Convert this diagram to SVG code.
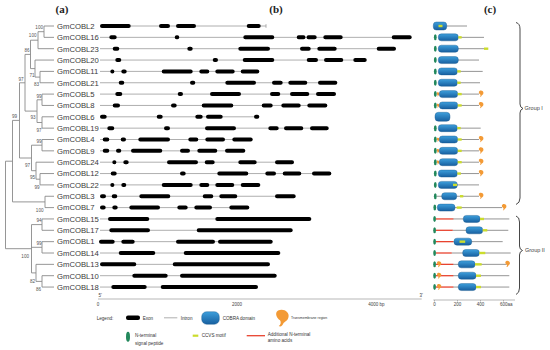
<svg xmlns="http://www.w3.org/2000/svg" xmlns:xlink="http://www.w3.org/1999/xlink" width="550" height="350" viewBox="0 0 550 350">
<style>
text{font-family:"Liberation Sans",Arial,sans-serif}
.g{font-size:7.7px;fill:#3a3a3a}
.bs{font-size:4.6px;fill:#555;text-anchor:end}
.pan{font-family:"Liberation Serif","Times New Roman",serif;font-size:11px;font-weight:bold;fill:#222;text-anchor:middle}
.tree path{fill:none;stroke:#8a8a8a;stroke-width:0.9}
.in{stroke:#9a9a9a;stroke-width:0.8}
.ex{fill:none;stroke:#000;stroke-width:4;stroke-linecap:round}
.pl{stroke:#7a7a7a;stroke-width:0.8}
.rl{stroke:#e8432f;stroke-width:1.3}
.dom{fill:url(#bg);stroke:#17598e;stroke-width:0.4}
.cc{fill:#cbdc2c}
.sp{fill:#23885c}
.tm{fill:#f39a35}
.ax{stroke:#9a9a9a;stroke-width:0.7}
.at{font-size:4.5px;fill:#444}
.lg{font-size:4.6px;fill:#333}
.grp{font-size:5.5px;fill:#444}
.br{fill:none;stroke:#333;stroke-width:0.9}
</style>
<defs>
<linearGradient id="bg" x1="0" y1="0" x2="0" y2="1">
<stop offset="0" stop-color="#3d9fdc"/>
<stop offset="1" stop-color="#175f9f"/>
</linearGradient>
<path id="tmh" class="tm" d="M-3,-5 C1,-7 6,-4 5,0 C4.5,3 2,3.5 1,5 C0.5,6.5 -1,8 -2.5,7 C-1,6 -0.5,4 -1.5,2.5 C-4,1 -6,-3 -3,-5Z"/>
</defs>
<rect width="550" height="350" fill="#fff"/>

<text class="pan" x="62" y="13">(a)</text>
<text class="pan" x="276" y="13">(b)</text>
<text class="pan" x="490" y="13">(c)</text>

<g id="tree" class="tree">
<path d="M54 26H44V37.35H54"/>
<path d="M44 31.7H38V48.7H54"/>
<path d="M54 71.4H40V82.75H54"/>
<path d="M54 60.05H35V77.1H40"/>
<path d="M38 40.2H30.5V68.6H35"/>
<path d="M54 94.1H42V105.45H54"/>
<path d="M54 116.8H42V128.15H54"/>
<path d="M42 99.8H37V122.5H42"/>
<path d="M30.5 54.4H25V111.1H37"/>
<path d="M54 139.5H42V150.85H54"/>
<path d="M54 173.55H40V184.9H54"/>
<path d="M54 162.2H36V179.2H40"/>
<path d="M42 145.2H31.5V170.7H36"/>
<path d="M25 82.8H19.5V158H31.5"/>
<path d="M54 196.25H45V207.6H54"/>
<path d="M19.5 120.4H12.5V201.9H45"/>
<path d="M54 218.95H42V230.3H54"/>
<path d="M54 241.65H42V253H54"/>
<path d="M54 275.7H42V287.05H54"/>
<path d="M54 264.35H36V281.4H42"/>
<path d="M42 224.6H31.5V272.9H36M31.5 247.3H42"/>
<path d="M12.5 161.2H5.5V248.7H31.5"/>
</g>
<g id="bootstrap">
<text class="bs" x="43" y="29">100</text>
<text class="bs" x="36.5" y="36.5">100</text>
<text class="bs" x="29.5" y="52">86</text>
<text class="bs" x="34.5" y="76.5">71</text>
<text class="bs" x="39" y="85.5">83</text>
<text class="bs" x="41.5" y="97.5">99</text>
<text class="bs" x="35.5" y="119">93</text>
<text class="bs" x="41.5" y="132">97</text>
<text class="bs" x="23.5" y="80.5">97</text>
<text class="bs" x="17" y="118">99</text>
<text class="bs" x="41.5" y="143">99</text>
<text class="bs" x="30" y="167">97</text>
<text class="bs" x="35" y="179">95</text>
<text class="bs" x="39.5" y="188.5">99</text>
<text class="bs" x="43.5" y="211.5">100</text>
<text class="bs" x="41.5" y="221.5">94</text>
<text class="bs" x="41.5" y="245">99</text>
<text class="bs" x="29" y="258">100</text>
<text class="bs" x="35" y="282.5">82</text>
<text class="bs" x="41" y="290.5">86</text>
</g>

<g id="GmCOBL2" transform="translate(0,26)">
<text class="g" x="57" y="2.8">GmCOBL2</text>
<line class="in" x1="100" x2="266"/><line class="in" x1="266" x2="266" y1="-1.8" y2="1.8"/>
<path class="ex" d="M102 0H128.7M161 0H168M178 0H194M248.7 0H258.7"/>
<line class="pl" x1="446" x2="467"/>
<rect class="dom" x="433.3" y="-4" width="13.4" height="8" rx="3"/>
<rect class="cc" x="438.5" y="-1.2" width="4" height="2.4"/>
</g>
<g id="GmCOBL16" transform="translate(0,37.35)">
<text class="g" x="57" y="2.8">GmCOBL16</text>
<line class="in" x1="100" x2="411.7"/>
<path class="ex" d="M111.3 0H114.7M176.7 0H177.3M245.3 0H272.3M298.7 0H303.5M308.5 0H314.7M325.3 0H340.7M393.7 0H409.7"/>
<line class="pl" x1="458" x2="484"/>
<rect class="dom" x="438.3" y="-3.5" width="20" height="7" rx="3"/>
<rect class="cc" x="458.3" y="-1.2" width="3.4" height="2.4"/>
<ellipse class="sp" cx="435.3" cy="0" rx="1.4" ry="3"/>
</g>
<g id="GmCOBL23" transform="translate(0,48.7)">
<text class="g" x="57" y="2.8">GmCOBL23</text>
<line class="in" x1="100" x2="396"/>
<path class="ex" d="M114.7 0H117.3M189.3 0H190.7M240.3 0H268M302 0H308.7M319.3 0H334.7M378.7 0H394"/>
<line class="pl" x1="458" x2="484"/>
<rect class="dom" x="438.3" y="-3.5" width="20" height="7" rx="3"/>
<rect class="cc" x="484" y="-1.2" width="4.3" height="2.4"/>
<ellipse class="sp" cx="435.3" cy="0" rx="1.4" ry="3"/>
</g>
<g id="GmCOBL20" transform="translate(0,60.05)">
<text class="g" x="57" y="2.8">GmCOBL20</text>
<line class="in" x1="100" x2="366.7"/>
<path class="ex" d="M117.3 0H119.3M214.7 0H216M244.7 0H272.3M308.7 0H316M326 0H341.3M355.3 0H364.7"/>
<line class="pl" x1="458" x2="479"/>
<rect class="dom" x="438.3" y="-3.5" width="20" height="7" rx="3"/>
<ellipse class="sp" cx="435.3" cy="0" rx="1.4" ry="3"/>
</g>
<g id="GmCOBL11" transform="translate(0,71.4)">
<text class="g" x="57" y="2.8">GmCOBL11</text>
<line class="in" x1="100" x2="259.3"/>
<path class="ex" d="M112.3 0H112.4M123.3 0H124.7M163.7 0H190.7M201.3 0H207.3M217.3 0H232.7M242.7 0H257.3"/>
<line class="pl" x1="457" x2="482.7"/>
<rect class="dom" x="438.3" y="-3.5" width="19" height="7" rx="3"/>
<rect class="cc" x="457.3" y="-1.2" width="3.4" height="2.4"/>
<ellipse class="sp" cx="435.3" cy="0" rx="1.4" ry="3"/>
</g>
<g id="GmCOBL21" transform="translate(0,82.75)">
<text class="g" x="57" y="2.8">GmCOBL21</text>
<line class="in" x1="100" x2="337.3"/>
<path class="ex" d="M120.7 0H122.3M192 0H193.3M227.3 0H254M274 0H280.7M290.3 0H305.3M320 0H335.3"/>
<line class="pl" x1="457" x2="480"/>
<rect class="dom" x="438.3" y="-3.5" width="19" height="7" rx="3"/>
<rect class="cc" x="457.3" y="-1.2" width="3.4" height="2.4"/>
<ellipse class="sp" cx="435.3" cy="0" rx="1.4" ry="3"/>
</g>
<g id="GmCOBL5" transform="translate(0,94.1)">
<text class="g" x="57" y="2.8">GmCOBL5</text>
<line class="in" x1="100" x2="336"/>
<path class="ex" d="M117.3 0H120.3M179.7 0H181M212 0H239M272 0H278.3M292 0H307.3M318 0H334"/>
<line class="pl" x1="457" x2="479"/>
<use href="#tmh" transform="translate(438,0) scale(0.32)"/>
<rect class="dom" x="439.3" y="-3.5" width="18.4" height="7" rx="3"/>
<rect class="cc" x="457.7" y="-1.2" width="4" height="2.4"/>
<ellipse class="sp" cx="435.3" cy="0" rx="1.4" ry="3"/>
<use href="#tmh" transform="translate(481,-0.8) scale(0.48)"/>
</g>
<g id="GmCOBL8" transform="translate(0,105.45)">
<text class="g" x="57" y="2.8">GmCOBL8</text>
<line class="in" x1="100" x2="327.3"/>
<path class="ex" d="M114.7 0H118M173 0H174.7M203.7 0H231.3M263.7 0H270.7M283.3 0H298.7M309.3 0H325.3"/>
<line class="pl" x1="457" x2="479"/>
<use href="#tmh" transform="translate(438,0) scale(0.32)"/>
<rect class="dom" x="439.3" y="-3.5" width="18.4" height="7" rx="3"/>
<rect class="cc" x="457.7" y="-1.2" width="4" height="2.4"/>
<ellipse class="sp" cx="435.3" cy="0" rx="1.4" ry="3"/>
<use href="#tmh" transform="translate(481,-0.8) scale(0.48)"/>
</g>
<g id="GmCOBL6" transform="translate(0,116.8)">
<text class="g" x="57" y="2.8">GmCOBL6</text>
<line class="in" x1="100" x2="259.3"/>
<path class="ex" d="M102 0H104.7M158.7 0H160.7M197.3 0H200.7M208 0H220.7M256 0H257.3"/>
<rect class="dom" x="435" y="-4.5" width="15" height="9" rx="3.5"/>
</g>
<g id="GmCOBL19" transform="translate(0,128.15)">
<text class="g" x="57" y="2.8">GmCOBL19</text>
<line class="in" x1="100" x2="328.7"/>
<path class="ex" d="M109.3 0H112.3M166 0H168M207 0H234M270.3 0H276.7M286 0H301.3M312 0H326.7"/>
<line class="pl" x1="457" x2="480.7"/>
<rect class="dom" x="438.3" y="-3.5" width="19" height="7" rx="3"/>
<rect class="cc" x="457.3" y="-1.2" width="3.4" height="2.4"/>
<ellipse class="sp" cx="435.3" cy="0" rx="1.4" ry="3"/>
</g>
<g id="GmCOBL4" transform="translate(0,139.5)">
<text class="g" x="57" y="2.8">GmCOBL4</text>
<line class="in" x1="100" x2="252.7"/>
<path class="ex" d="M104.7 0H107.3M122.7 0H124M140.3 0H168M190.3 0H196.3M207.3 0H223M234.3 0H250.7"/>
<line class="pl" x1="457" x2="479"/>
<use href="#tmh" transform="translate(438,0) scale(0.32)"/>
<rect class="dom" x="439.3" y="-3.5" width="18.4" height="7" rx="3"/>
<rect class="cc" x="457.7" y="-1.2" width="4" height="2.4"/>
<ellipse class="sp" cx="435.3" cy="0" rx="1.4" ry="3"/>
<use href="#tmh" transform="translate(481,-0.8) scale(0.48)"/>
</g>
<g id="GmCOBL9" transform="translate(0,150.85)">
<text class="g" x="57" y="2.8">GmCOBL9</text>
<line class="in" x1="100" x2="245.3"/>
<path class="ex" d="M104.7 0H107.3M118 0H119.3M133 0H160.3M182 0H188M199.3 0H215.3M227 0H243.3"/>
<line class="pl" x1="457" x2="479"/>
<use href="#tmh" transform="translate(438,0) scale(0.32)"/>
<rect class="dom" x="439.3" y="-3.5" width="18.4" height="7" rx="3"/>
<rect class="cc" x="457.7" y="-1.2" width="4" height="2.4"/>
<ellipse class="sp" cx="435.3" cy="0" rx="1.4" ry="3"/>
<use href="#tmh" transform="translate(481,-0.8) scale(0.48)"/>
</g>
<g id="GmCOBL24" transform="translate(0,162.2)">
<text class="g" x="57" y="2.8">GmCOBL24</text>
<line class="in" x1="100" x2="294"/>
<path class="ex" d="M114.3 0H114.4M125.3 0H126.7M169 0H196M206.7 0H212.7M240.3 0H254.7M277 0H292"/>
<line class="pl" x1="457" x2="479"/>
<use href="#tmh" transform="translate(438,0) scale(0.32)"/>
<rect class="dom" x="439.3" y="-3.5" width="18.4" height="7" rx="3"/>
<rect class="cc" x="457.7" y="-1.2" width="4" height="2.4"/>
<ellipse class="sp" cx="435.3" cy="0" rx="1.4" ry="3"/>
<use href="#tmh" transform="translate(481,-0.8) scale(0.48)"/>
</g>
<g id="GmCOBL12" transform="translate(0,173.55)">
<text class="g" x="57" y="2.8">GmCOBL12</text>
<line class="in" x1="100" x2="331.3"/>
<path class="ex" d="M112.7 0H114.7M182 0H183.7M219.3 0H246.3M267.3 0H274M284.7 0H299.3M314 0H329.3"/>
<line class="pl" x1="457" x2="479"/>
<rect class="dom" x="438.3" y="-3.5" width="19" height="7" rx="3"/>
<rect class="cc" x="457.3" y="-1.2" width="3.6" height="2.4"/>
<ellipse class="sp" cx="435.3" cy="0" rx="1.4" ry="3"/>
<use href="#tmh" transform="translate(481,-0.8) scale(0.48)"/>
</g>
<g id="GmCOBL22" transform="translate(0,184.9)">
<text class="g" x="57" y="2.8">GmCOBL22</text>
<line class="in" x1="100" x2="260.3"/>
<path class="ex" d="M112.3 0H112.4M123.3 0H124.3M163.7 0H190.7M201.3 0H207.3M217.3 0H232.3M242.7 0H258.3"/>
<line class="pl" x1="457" x2="479"/>
<rect class="dom" x="438.3" y="-3.5" width="19" height="7" rx="3"/>
<rect class="cc" x="453" y="-1.2" width="4" height="2.4"/>
<ellipse class="sp" cx="435.3" cy="0" rx="1.4" ry="3"/>
</g>
<g id="GmCOBL3" transform="translate(0,196.25)">
<text class="g" x="57" y="2.8">GmCOBL3</text>
<line class="in" x1="100" x2="295.7"/>
<path class="ex" d="M102 0H104M113.7 0H115.3M141.3 0H168.3M204.7 0H211.3M221.3 0H235.3M277 0H293.7"/>
<line class="pl" x1="437" x2="479"/>
<rect class="dom" x="441.7" y="-3.5" width="15" height="7" rx="3"/>
<rect class="cc" x="460" y="-1.2" width="3.3" height="2.4"/>
<ellipse class="sp" cx="435.3" cy="0" rx="1.4" ry="3"/>
<use href="#tmh" transform="translate(481,-0.8) scale(0.48)"/>
</g>
<g id="GmCOBL7" transform="translate(0,207.6)">
<text class="g" x="57" y="2.8">GmCOBL7</text>
<line class="in" x1="100" x2="249.3"/>
<path class="ex" d="M102 0H103.7M114.3 0H115.7M131.3 0H158M179.3 0H185.7M196.3 0H210M231.3 0H247.3"/>
<line class="pl" x1="455" x2="502"/>
<rect class="dom" x="437.3" y="-3.5" width="17.7" height="7" rx="3"/>
<rect class="cc" x="456.7" y="-1.2" width="5" height="2.4"/>
<ellipse class="sp" cx="434.8" cy="0" rx="1.4" ry="3"/>
<use href="#tmh" transform="translate(504,-0.8) scale(0.48)"/>
</g>
<g id="GmCOBL15" transform="translate(0,218.95)">
<text class="g" x="57" y="2.8">GmCOBL15</text>
<line class="in" x1="100" x2="311.3"/>
<path class="ex" d="M110 0H147.3M217.3 0H309.3"/>
<line class="pl" x1="453" x2="509.3"/>
<line class="rl" x1="436" x2="453.3"/>
<rect class="dom" x="463.3" y="-3.5" width="16.7" height="7" rx="3"/>
<rect class="cc" x="480" y="-1.2" width="4" height="2.4"/>
<ellipse class="sp" cx="434.6" cy="0" rx="1.4" ry="3"/>
</g>
<g id="GmCOBL17" transform="translate(0,230.3)">
<text class="g" x="57" y="2.8">GmCOBL17</text>
<line class="in" x1="100" x2="292.7"/>
<path class="ex" d="M111.3 0H148M198.7 0H290.7"/>
<line class="pl" x1="452.5" x2="508.3"/>
<line class="rl" x1="436" x2="452.7"/>
<rect class="dom" x="466" y="-3.5" width="16.7" height="7" rx="3"/>
<rect class="cc" x="482.7" y="-1.2" width="4.6" height="2.4"/>
<ellipse class="sp" cx="434.6" cy="0" rx="1.4" ry="3"/>
</g>
<g id="GmCOBL1" transform="translate(0,241.65)">
<text class="g" x="57" y="2.8">GmCOBL1</text>
<line class="in" x1="99" x2="272.7"/>
<path class="ex" d="M101 0H112.7M123.3 0H132.7M178 0H213M220 0H270.7"/>
<line class="pl" x1="453" x2="502.7"/>
<line class="rl" x1="436" x2="453.3"/>
<rect class="dom" x="454" y="-3.5" width="17.7" height="7" rx="3"/>
<rect class="cc" x="459.5" y="-1.2" width="5.7" height="2.4"/>
<ellipse class="sp" cx="434.6" cy="0" rx="1.4" ry="3"/>
</g>
<g id="GmCOBL14" transform="translate(0,253)">
<text class="g" x="57" y="2.8">GmCOBL14</text>
<line class="in" x1="100" x2="280.3"/>
<path class="ex" d="M120.7 0H153.3M185.7 0H278.3"/>
<line class="pl" x1="451.5" x2="510.7"/>
<line class="rl" x1="436" x2="451.7"/>
<rect class="dom" x="462.7" y="-3.5" width="16.6" height="7" rx="3"/>
<rect class="cc" x="479.3" y="-1.2" width="6" height="2.4"/>
<ellipse class="sp" cx="434.6" cy="0" rx="1.4" ry="3"/>
</g>
<g id="GmCOBL13" transform="translate(0,264.35)">
<text class="g" x="57" y="2.8">GmCOBL13</text>
<line class="in" x1="100" x2="270"/>
<path class="ex" d="M102 0H134.3M174.7 0H268"/>
<line class="pl" x1="453" x2="506.7"/>
<line class="rl" x1="436" x2="453.3"/>
<use href="#tmh" transform="translate(439,-0.5) scale(0.45)"/>
<rect class="dom" x="458.3" y="-3.5" width="16.7" height="7" rx="3"/>
<rect class="cc" x="475" y="-1.2" width="6.7" height="2.4"/>
<ellipse class="sp" cx="434.6" cy="0" rx="1.4" ry="3"/>
<use href="#tmh" transform="translate(507.5,-0.8) scale(0.48)"/>
</g>
<g id="GmCOBL10" transform="translate(0,275.7)">
<text class="g" x="57" y="2.8">GmCOBL10</text>
<line class="in" x1="100" x2="276.7"/>
<path class="ex" d="M134.3 0H165.7M182 0H274.7"/>
<line class="pl" x1="453" x2="509.3"/>
<line class="rl" x1="436" x2="453.3"/>
<use href="#tmh" transform="translate(439,-0.5) scale(0.45)"/>
<rect class="dom" x="458.3" y="-3.5" width="17.7" height="7" rx="3"/>
<rect class="cc" x="476" y="-1.2" width="5" height="2.4"/>
<ellipse class="sp" cx="434.6" cy="0" rx="1.4" ry="3"/>
</g>
<g id="GmCOBL18" transform="translate(0,287.05)">
<text class="g" x="57" y="2.8">GmCOBL18</text>
<line class="in" x1="100" x2="258"/>
<path class="ex" d="M113.3 0H144.7M162.7 0H256"/>
<line class="pl" x1="453" x2="509.3"/>
<line class="rl" x1="436" x2="453.3"/>
<use href="#tmh" transform="translate(439,-0.5) scale(0.45)"/>
<rect class="dom" x="458.3" y="-3.5" width="17.7" height="7" rx="3"/>
<rect class="cc" x="476" y="-1.2" width="5" height="2.4"/>
<ellipse class="sp" cx="434.6" cy="0" rx="1.4" ry="3"/>
</g>

<g id="groups">
<path class="br" d="M516 22.5Q520 23.5 520 29V104Q520 107.5 523 108.5Q520 109.5 520 113V198Q520 203 516 204.5"/>
<text class="grp" x="524.5" y="110">Group I</text>
<path class="br" d="M516 216Q519.5 217 519.5 222V246Q519.5 249.5 522.5 250.5Q519.5 251.5 519.5 255V288Q519.5 293 516 294.5"/>
<text class="grp" x="525" y="252">Group II</text>
</g>

<g id="axis-b">
<line class="ax" x1="98" y1="299" x2="421.7" y2="299"/>
<text class="at" x="98.5" y="296.5">5'</text>
<text class="at" x="419.5" y="296.5">3'</text>
<text class="at" x="98" y="305.5" text-anchor="middle">0</text>
<text class="at" x="237" y="305.5" text-anchor="middle">2000</text>
<text class="at" x="368.3" y="305.5">4000 bp</text>
</g>
<g id="axis-c">
<line class="ax" x1="433.3" y1="300" x2="515" y2="300"/>
<line class="ax" x1="434.5" y1="300" x2="434.5" y2="301.5"/>
<line class="ax" x1="457.5" y1="300" x2="457.5" y2="301.5"/>
<line class="ax" x1="480.5" y1="300" x2="480.5" y2="301.5"/>
<line class="ax" x1="503.5" y1="300" x2="503.5" y2="301.5"/>
<text class="at" x="434.5" y="306" text-anchor="middle">0</text>
<text class="at" x="457.5" y="306" text-anchor="middle">200</text>
<text class="at" x="480.5" y="306" text-anchor="middle">400</text>
<text class="at" x="500" y="306">600aa</text>
</g>

<g id="legend">
<text class="lg" x="96.7" y="319.5">Legend:</text>
<rect x="126" y="315.6" width="14" height="4.4" rx="2" fill="#000"/>
<text class="lg" x="142.7" y="319.5">Exon</text>
<line class="in" x1="164" y1="317.8" x2="177.3" y2="317.8"/>
<text class="lg" x="180.7" y="319.5">Intron</text>
<rect class="dom" x="201.7" y="311.7" width="17.6" height="12.6" rx="5"/>
<text class="lg" x="222.7" y="319.5">COBRA domain</text>
<use href="#tmh" transform="translate(282,317) scale(1.3)"/>
<text class="lg" x="291" y="319" style="font-size:3.5px">Transmembrane region</text>
<ellipse class="sp" cx="128" cy="336.7" rx="2" ry="5"/>
<text class="lg" x="135" y="337">N-terminal</text>
<text class="lg" x="135" y="344.5">signal peptide</text>
<rect class="cc" x="192.7" y="334.6" width="5.6" height="2.2"/>
<text class="lg" x="201.7" y="337">CCVS motif</text>
<line class="rl" x1="246.7" y1="335.7" x2="265" y2="335.7"/>
<text class="lg" x="267.7" y="335.5">Additional N-terminal</text>
<text class="lg" x="267.7" y="342">amino acids</text>
</g>
</svg>
